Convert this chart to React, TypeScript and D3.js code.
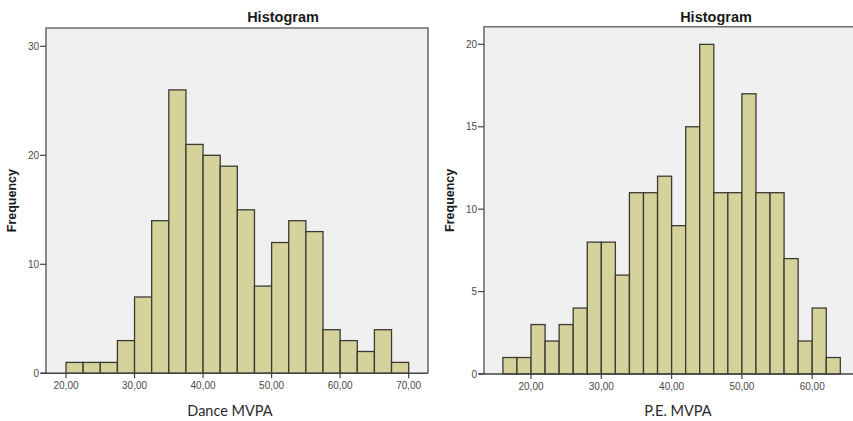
import React from "react";
import * as d3 from "d3";

// Dance MVPA histogram: bin edges and frequencies
const danceEdges = [20, 22.5, 25, 27.5, 30, 32.5, 35, 37.5, 40, 42.5, 45, 47.5, 50, 52.5, 55, 57.5, 60, 62.5, 65, 67.5, 70];
const danceCounts = [1, 1, 1, 3, 7, 14, 26, 21, 20, 19, 15, 8, 12, 14, 13, 4, 3, 2, 4, 1];
const danceXTicks = [20, 30, 40, 50, 60, 70];
const danceYTicks = [0, 10, 20, 30];

// P.E. MVPA histogram: bin edges and frequencies
const peEdges = [16, 18, 20, 22, 24, 26, 28, 30, 32, 34, 36, 38, 40, 42, 44, 46, 48, 50, 52, 54, 56, 58, 60, 62, 64];
const peCounts = [1, 1, 3, 2, 3, 4, 8, 8, 6, 11, 11, 12, 9, 15, 20, 11, 11, 17, 11, 11, 7, 2, 4, 1];
const peXTicks = [20, 30, 40, 50, 60];
const peYTicks = [0, 5, 10, 15, 20];

const W = 853;
const H = 421;

const BAR_FILL = "#d5d29c";
const BAR_STROKE = "#3b3b33";
const PLOT_BG = "#f0f0f0";
const FRAME = "#6e6e6e";
const SANS = "'Liberation Sans', Arial, sans-serif";

const comma = d3.formatLocale({ decimal: ",", thousands: ".", grouping: [3], currency: ["", ""] }).format(".2f");

type PanelProps = {
  edges: number[];
  counts: number[];
  xTicks: number[];
  yTicks: number[];
  xDomain: [number, number];
  yMax: number;
  left: number;
  right: number;
  top: number;
  bottom: number;
  titleX: number;
  yTitleX: number;
  xTitle: string;
  xTitleX: number;
  showRightFrame: boolean;
};

function Panel(p: PanelProps) {
  const x = d3.scaleLinear().domain(p.xDomain).range([p.left, p.right]);
  const y = d3.scaleLinear().domain([0, p.yMax]).range([p.bottom, p.top]);
  const bins = p.counts.map((c, i) => ({ x0: p.edges[i], x1: p.edges[i + 1], c }));
  return (
    <g>
      <rect x={p.left} y={p.top} width={p.right - p.left} height={p.bottom - p.top} fill={PLOT_BG} />
      {/* frame */}
      <path
        d={`M${p.left},${p.bottom} V${p.top} H${p.right}` + (p.showRightFrame ? ` V${p.bottom}` : "")}
        fill="none"
        stroke={FRAME}
        strokeWidth={1.6}
      />
      {bins.map((b, i) => (
        <rect
          key={i}
          x={x(b.x0)}
          y={y(b.c)}
          width={x(b.x1) - x(b.x0)}
          height={y(0) - y(b.c)}
          fill={BAR_FILL}
          stroke={BAR_STROKE}
          strokeWidth={1.3}
        />
      ))}
      {/* x axis */}
      <line x1={p.left - 5} x2={p.right} y1={p.bottom} y2={p.bottom} stroke="#444" strokeWidth={1.4} />
      {p.xTicks.map((t) => (
        <g key={t}>
          <line x1={x(t)} x2={x(t)} y1={p.bottom} y2={p.bottom + 5} stroke="#444" strokeWidth={1.2} />
          <text x={x(t)} y={p.bottom + 16} textAnchor="middle" fontFamily={SANS} fontSize={10} fill="#4a4a4a">
            {comma(t)}
          </text>
        </g>
      ))}
      {/* y axis ticks */}
      {p.yTicks.map((t) => (
        <g key={t}>
          <line x1={p.left - 6} x2={p.left} y1={y(t)} y2={y(t)} stroke="#444" strokeWidth={1.2} />
          <text x={p.left - 7} y={y(t)} dy="0.35em" textAnchor="end" fontFamily={SANS} fontSize={10} fill="#4a4a4a">
            {t}
          </text>
        </g>
      ))}
      <text x={p.titleX} y={22} textAnchor="middle" fontFamily={SANS} fontWeight="bold" fontSize={14.5} fill="#1a1a1a">
        Histogram
      </text>
      <text
        transform={`translate(${p.yTitleX},${(p.top + p.bottom) / 2}) rotate(-90)`}
        textAnchor="middle"
        dy="0.35em"
        fontFamily={SANS}
        fontWeight="bold"
        fontSize={12.5}
        fill="#1a1a1a"
      >
        Frequency
      </text>
      <text x={p.xTitleX} y={416} textAnchor="middle" fontFamily="Lato, 'Open Sans', sans-serif" fontSize={14.5} fill="#2a2a2a">
        {p.xTitle}
      </text>
    </g>
  );
}

export default function App() {
  return (
    <svg width={W} height={H} style={{ position: "absolute", left: 0, top: 0, background: "#fff" }}>
      <rect width={W} height={H} fill="#fff" />
      <Panel
        edges={danceEdges}
        counts={danceCounts}
        xTicks={danceXTicks}
        yTicks={danceYTicks}
        xDomain={[17.08, 72.82]}
        yMax={31.68}
        left={46}
        right={428}
        top={28}
        bottom={373.3}
        titleX={283}
        yTitleX={12}
        xTitle="Dance MVPA"
        xTitleX={230}
        showRightFrame={true}
      />
      <Panel
        edges={peEdges}
        counts={peCounts}
        xTicks={peXTicks}
        yTicks={peYTicks}
        xDomain={[13.31, 66.8]}
        yMax={21.07}
        left={484}
        right={860}
        top={26.7}
        bottom={374}
        titleX={716}
        yTitleX={450}
        xTitle="P.E. MVPA"
        xTitleX={678}
        showRightFrame={false}
      />
    </svg>
  );
}
